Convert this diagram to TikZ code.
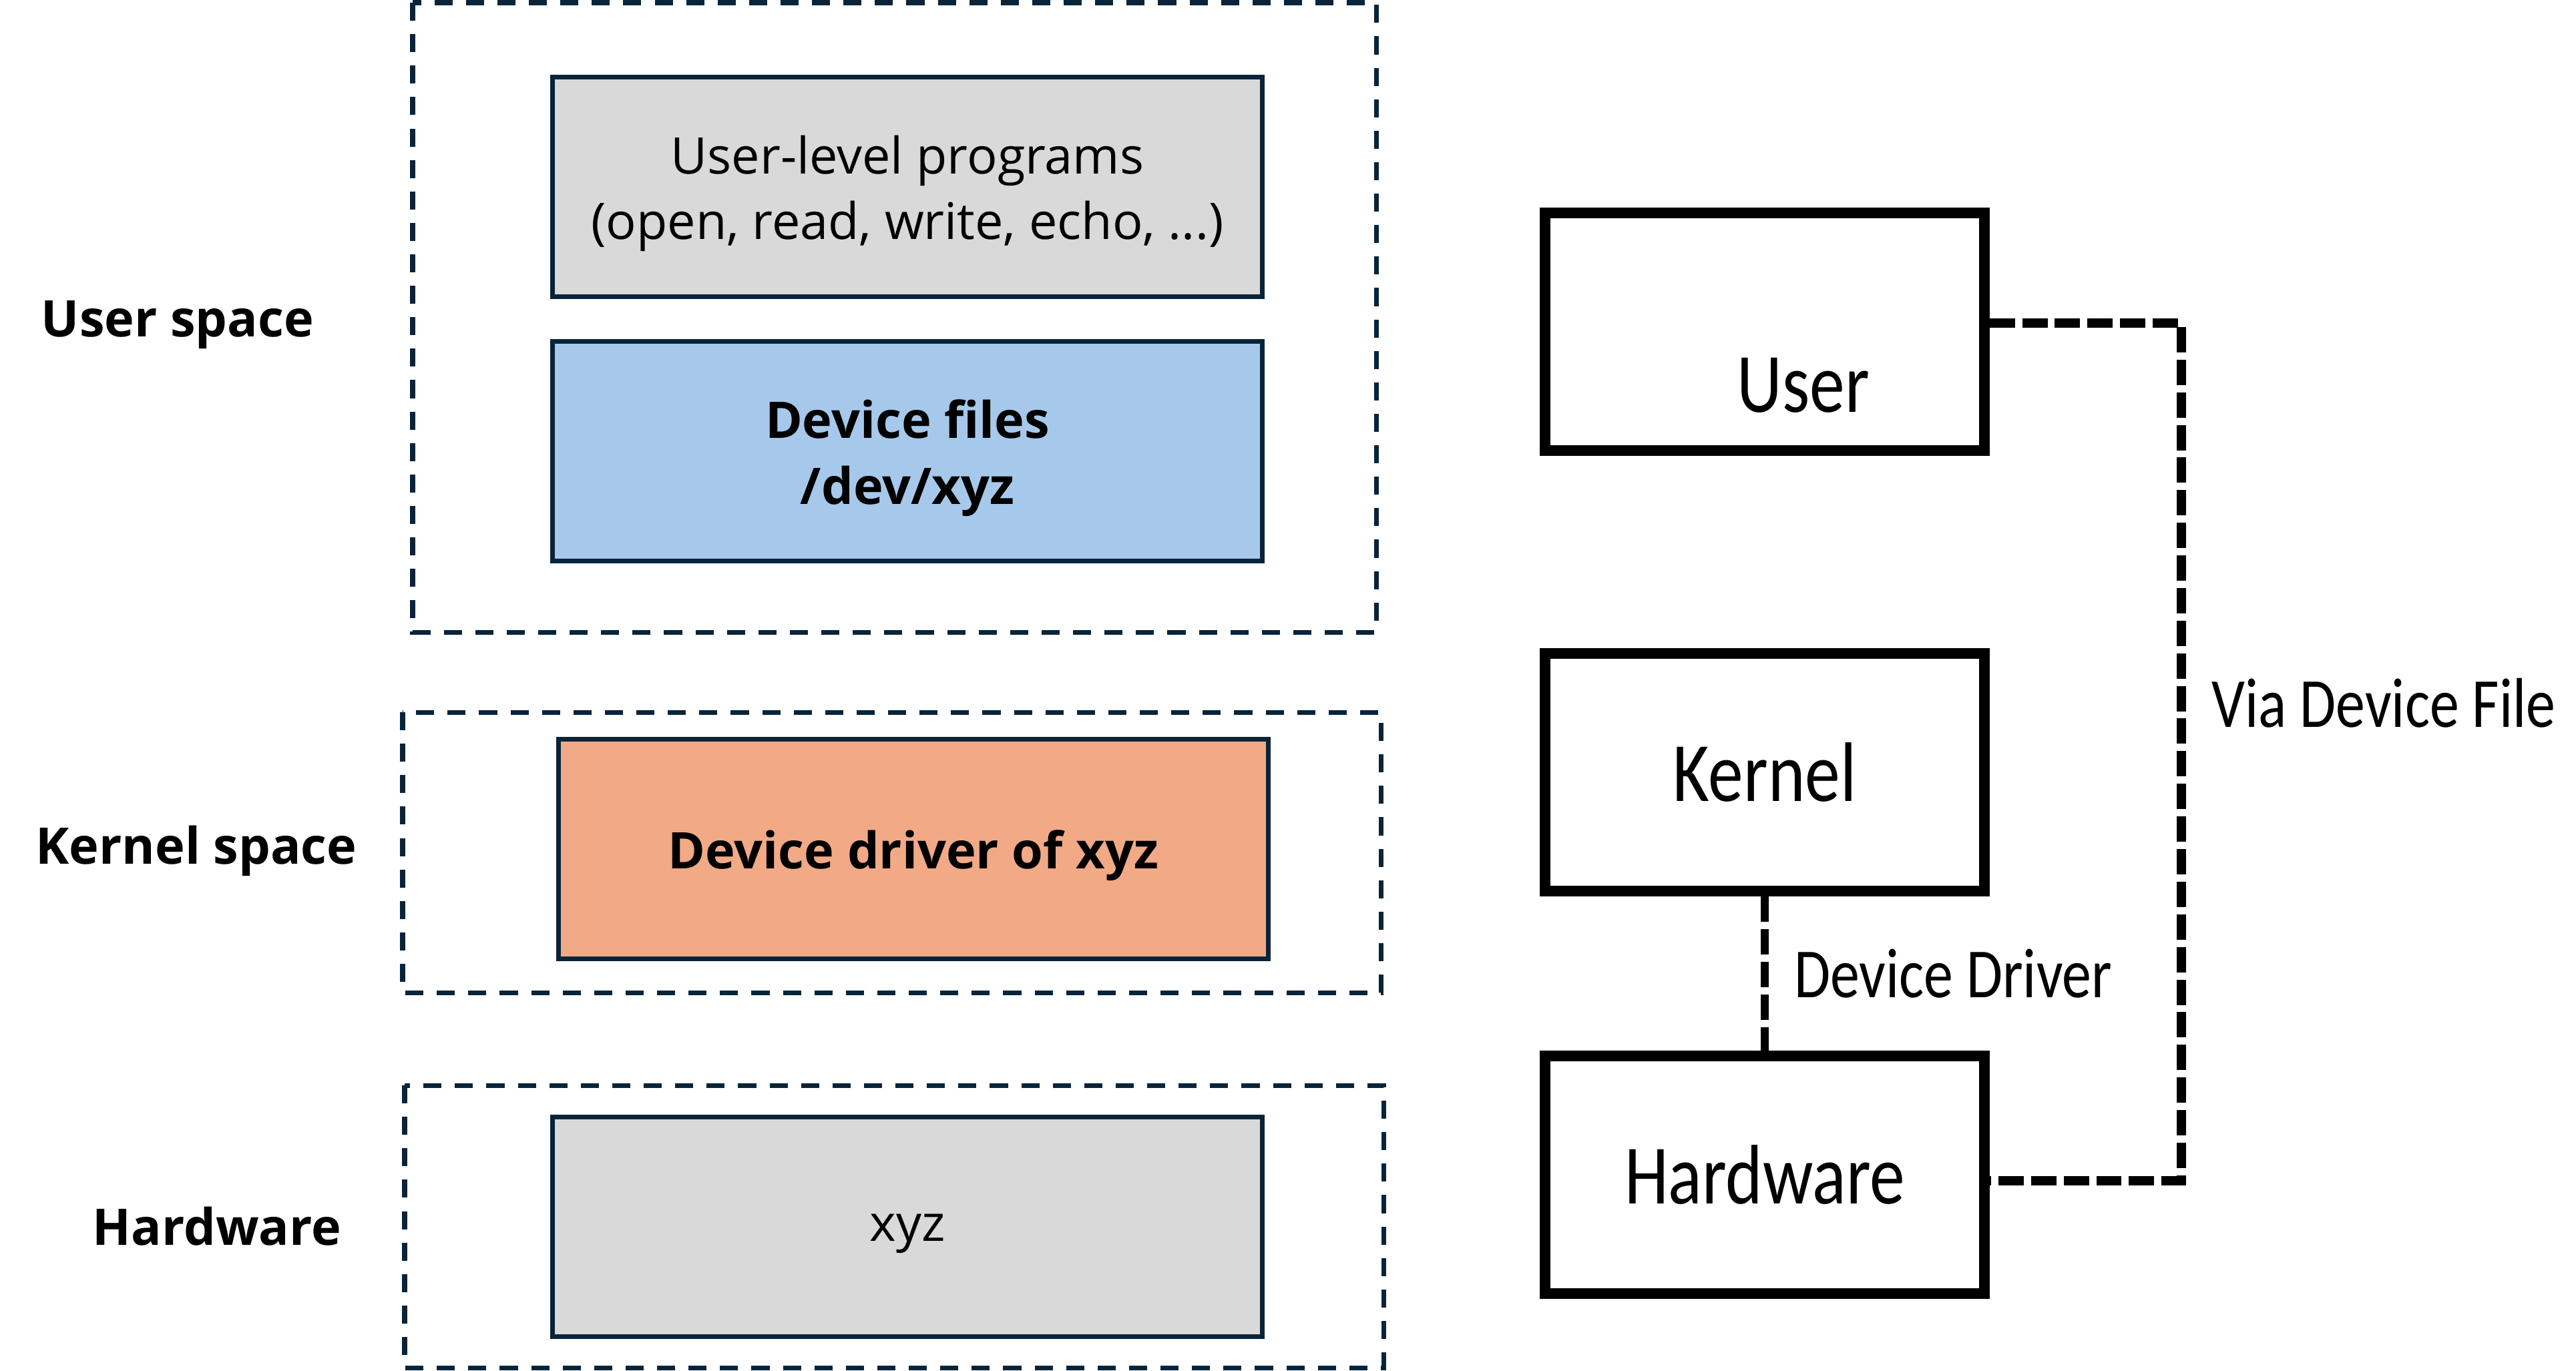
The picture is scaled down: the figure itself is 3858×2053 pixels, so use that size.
\documentclass[tikz,border=0pt]{standalone}
\usepackage{fontspec}
\setmainfont{Open Sans}
\newfontfamily\sketchfont{Carlito}
\usetikzlibrary{positioning}

\definecolor{navy}{HTML}{08243A}
\definecolor{boxgray}{HTML}{D9D9D9}
\definecolor{fileblue}{HTML}{A6C9EB}
\definecolor{driverorange}{HTML}{F1AA85}

\newcommand{\tallText}[1]{\scalebox{1}[1.2]{#1}}

\begin{document}
\begin{tikzpicture}[
    x=0.01cm,
    y=-0.01cm,
    spacebox/.style={
        draw=navy,
        line width=2pt,
        dash pattern=on 7.7pt off 5.7pt,
    },
    layerbox/.style={
        draw=navy,
        line width=2pt,
        minimum width=10.62cm,
        minimum height=3.28cm,
        inner sep=0pt,
    },
    layertext/.style={
        align=center,
        yshift=-0.1cm,
        font=\fontsize{21.5}{28}\selectfont,
    },
    spacelabel/.style={
        font=\fontsize{21.5}{28}\selectfont\bfseries,
    },
    boxtext/.style={
        font=\fontsize{30}{36}\sketchfont,
    },
    block/.style={
        draw,
        line width=4.5pt,
        minimum width=6.57cm,
        minimum height=3.56cm,
        inner sep=0pt,
        boxtext,
    },
    link/.style={
        line width=4pt,
        dash pattern=on 10.8pt off 3.1pt,
    },
    linklabel/.style={
        font=\fontsize{25}{30}\sketchfont,
        inner sep=0pt,
    }
]
    \useasboundingbox (0,0) rectangle (3858,2053);

    % Spaces
    \draw[spacebox] (618,4) rectangle (2061,947);
    \draw[spacebox] (603,1067) rectangle (2068,1487);
    \draw[spacebox] (606,1626) rectangle (2072,2049);

    \node[spacelabel] (userspace) at (266,487) {User space};
    \node[spacelabel] (kernelspace) at (294,1275) {Kernel space};
    \node[spacelabel] (hardware) at (325,1837) {Hardware};

    % Layers
    \node[layerbox, fill=boxgray,
        label={[layertext]center:{User-level programs\\(open, read, write, echo, ...)}}]
        (userprog) at (1359,280) {};
    \node[layerbox, fill=fileblue,
        label={[layertext]center:{\textbf{Device files}\\\textbf{/dev/xyz}}}]
        (devfiles) at (1359,676) {};
    \node[layerbox, fill=driverorange,
        label={[layertext]center:\textbf{Device driver of xyz}}]
        (driver) at (1368,1272) {};
    \node[layerbox, fill=boxgray, label={[layertext]center:xyz}] (xyzdev) at (1359,1838) {};

    % Blocks
    \node[block, label={[boxtext, xshift=0.58cm, yshift=-0.8cm]center:\tallText{User}}]
        (userbox) at (2643,497) {};
    \node[block] (kernelbox) at (2643,1157) {\tallText{Kernel}};
    \node[block] (hwbox) at (2643,1760) {\tallText{Hardware}};

    % Links
    \coordinate (viatop) at (3267,484);
    \coordinate (viabot) at (3267,1769);
    \draw[link] (userbox.east |- viatop) -- (viatop) -- (viabot) -- (hwbox.east |- viabot);
    \node[linklabel, anchor=west] (vialabel) at (3312,1053) {\tallText{Via Device File}};

    \draw[link, line width=3.4pt] (kernelbox) -- node[linklabel, midway, right=0.38cm]
        (drvlabel) {\tallText{Device Driver}} (hwbox);
\end{tikzpicture}
\end{document}
